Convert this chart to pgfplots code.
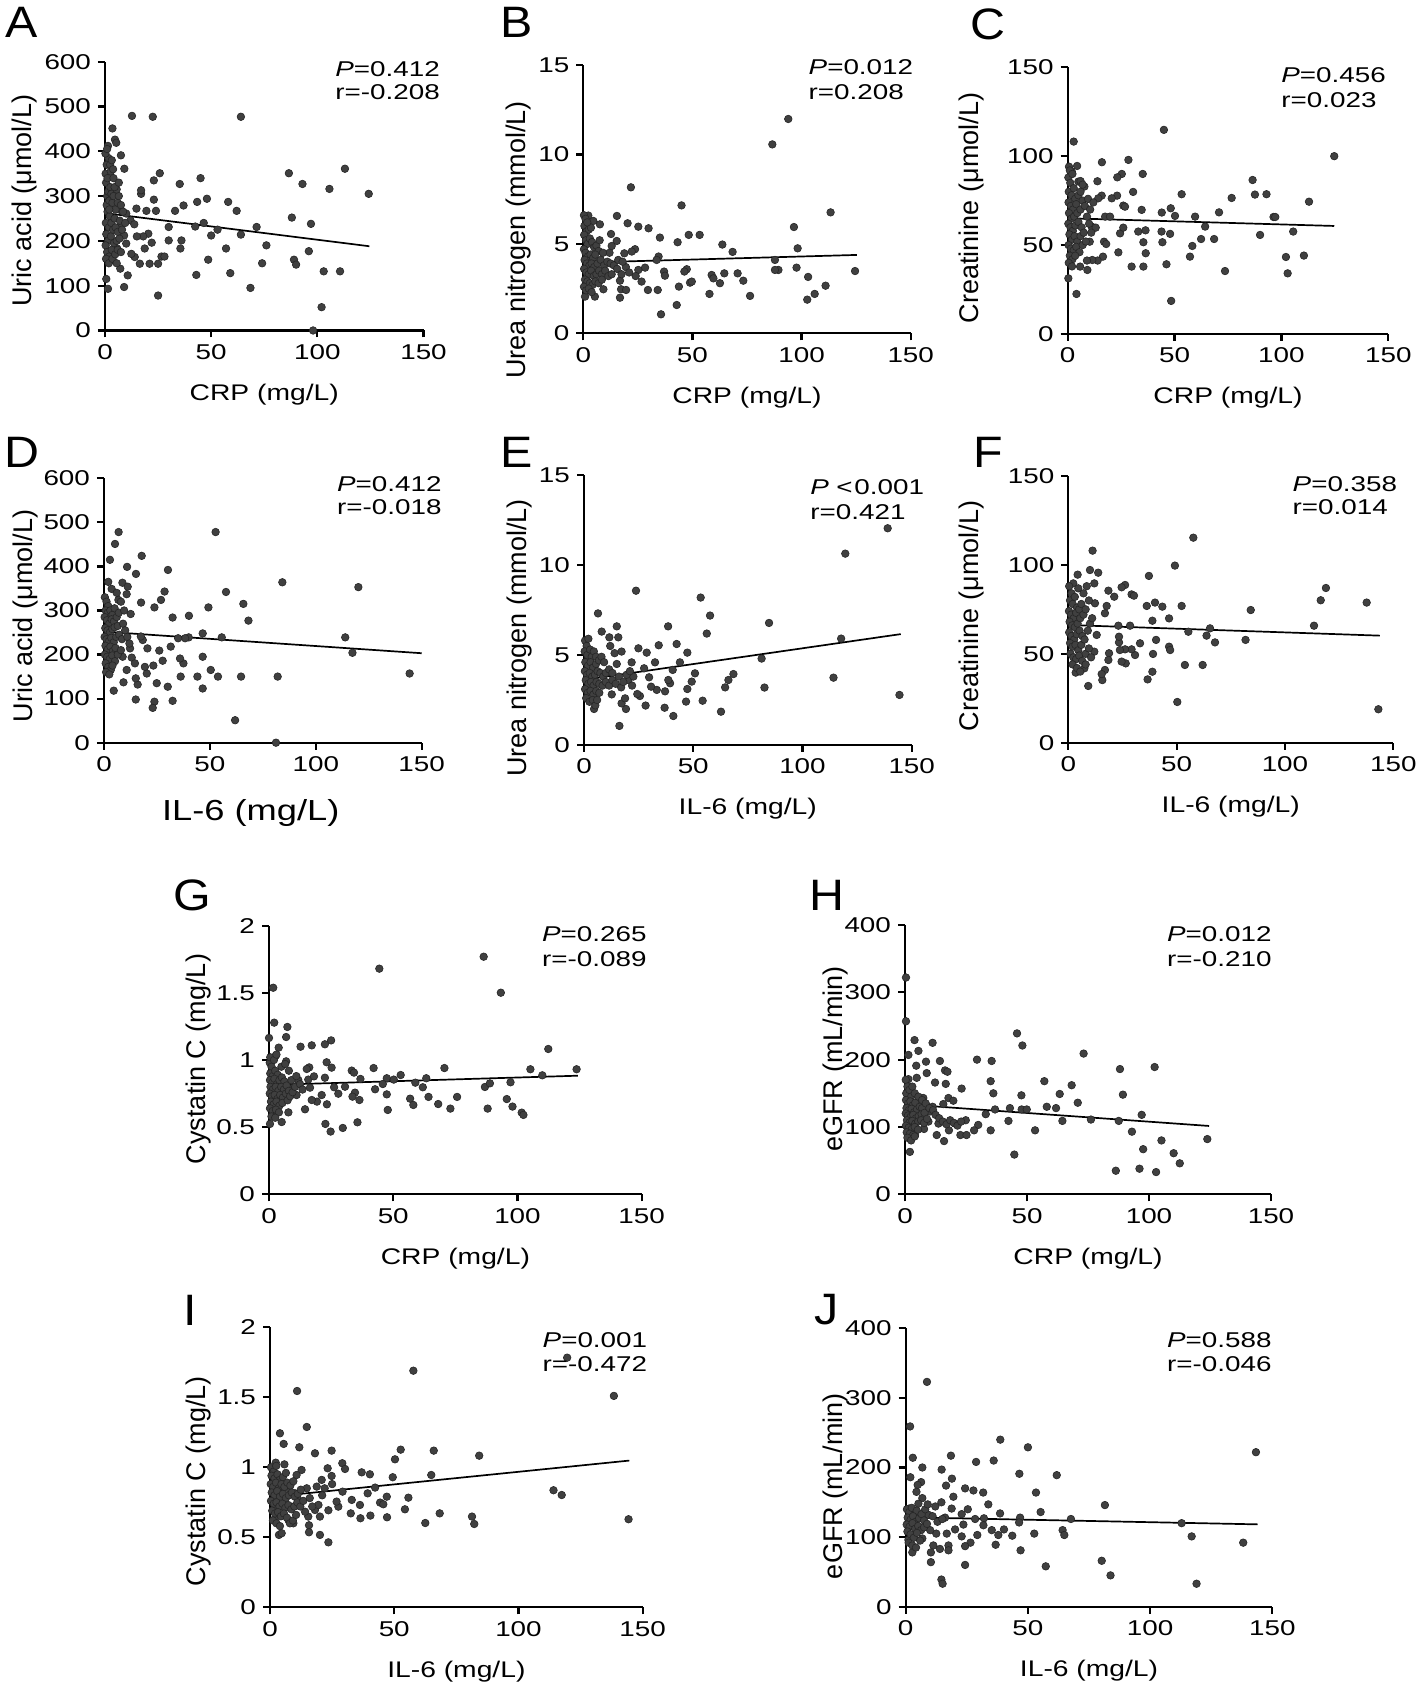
\documentclass[border=0pt]{standalone}
\usepackage{fontspec}
\setmainfont{Liberation Sans}
\newfontfamily\sfs[FakeStretch=1.3]{Liberation Sans}
\newfontfamily\sfx[FakeStretch=1.25]{Liberation Sans}
\newfontfamily\sfl[FakeStretch=1.1]{Liberation Sans}
\usepackage{pgfplots}
\pgfplotsset{compat=1.18}
\definecolor{dot}{HTML}{404040}
\pgfplotsset{
  panel/.style={
    scale only axis, clip=false,
    axis lines*=left,
    xmin=0,xmax=150, xtick={0,50,100,150},
    tick align=outside, major tick length=3.5pt,
    axis line style={line width=1.1pt},
    tick style={line width=1.1pt, black},
    tick label style={font=\sfs\fontsize{10.7}{12}\selectfont},
    /pgf/number format/assume math mode=true,
    anchor=south west,
  },
  sc/.style={only marks, mark=*, mark size=1.9pt, mark options={fill=dot, draw=black!85, line width=0.3pt}},
  fit/.style={no marks, black, line width=0.85pt},
}
\newcommand{\pr}[5]{%
  \node[anchor=base west, font=\sfs\fontsize{10.7}{12}\selectfont, inner sep=0pt] at (#1pt,#2pt) {#4};%
  \node[anchor=base west, font=\sfs\fontsize{10.7}{12}\selectfont, inner sep=0pt] at (#1pt,#3pt) {#5};}
\newcommand{\lt}[3]{\node[font=\sfl\fontsize{22}{24}\selectfont, inner sep=0pt] at (#1pt,#2pt) {#3};}
\newcommand{\xl}[3]{\node[anchor=base, font=\sfx\fontsize{11.3}{13}\selectfont, inner sep=0pt] at (#1pt,#2pt) {#3};}
\newcommand{\yl}[3]{\node[anchor=base, rotate=90, font=\fontsize{13.5}{15}\selectfont, inner sep=0pt] at (#1pt,#2pt) {#3};}
\begin{document}
\begin{tikzpicture}
\path[use as bounding box] (0,0) rectangle (709pt,847.5pt);
% ---------------- A
\begin{axis}[panel, at={(52.5pt,682.25pt)}, width=159.25pt, height=134.4pt, ymin=0, ymax=600, ytick={0,100,...,600}]
\addplot[sc] coordinates {(12.7,479)(22.5,477)(64,477)(3.5,451)(4.7,426)(5.3,419)(1.4,412)(7.5,391)(9.1,361)(86.6,351)(25.8,351)(113,361)(93,327)(105.7,316)(124.2,305)(35.2,327)(45,340)(23,335)(23,292)(17,305)(17,313)(14.8,272)(19.5,267)(24,267)(33,267)(37,279)(43.4,287)(48,294)(58,287)(62,267)(88,252)(97,238)(71.4,231)(30,231)(42.5,232)(46.5,240)(53,225)(50,212)(64,214)(76,190)(57,183)(35.5,183)(36,201)(30,201)(22,196)(20.4,216)(18,210)(15,210)(18.7,183)(14,164)(12.4,171)(16.4,149)(21,149)(25,149)(26.6,165)(28,165)(48.6,158)(59,128)(74,150)(89,158)(90,147)(96,177)(103,132)(110.7,132)(43,124)(68.5,95)(25,78)(102,52)(98,0)(10.7,123)(9,97)(7.2,138)(1.4,93)(0.6,115)(5.7,183)(10,194)(9,212)(7.2,231)(12,246)(13.8,237)(10,261)(7.9,267)
(0.3,350)(0.5,330)(1,300)(0.8,280)(1.5,310)(2,290)(2.5,320)(3,305)(3.5,285)(4,300)(1.2,265)(2.2,255)(0.4,240)(1.8,230)(3,240)(4.5,250)(5,270)(6,285)(6.5,300)(5.5,315)(0.6,215)(1.5,200)(2.8,210)(3.8,225)(5,230)(6,220)(7,245)(0.3,190)(1,175)(2,165)(3.2,180)(4.2,195)(5.5,200)(6.8,205)(0.5,160)(1.8,150)(3.5,160)(4.8,170)(0.8,370)(1.6,385)(2.4,370)(3.2,380)(2.7,355)(3.8,360)(0.2,395)(1,405)(4.5,320)(7.5,280)(8.5,265)(8,225)(9.5,240)(2,270)(6,180)(7.5,175)(5.5,150)(1.2,340)(4,340)(6.5,330)};
\addplot[fit] coordinates {(0,262) (124.5,188)};
\end{axis}
% ---------------- B
\begin{axis}[panel, at={(291.65pt,680.85pt)}, width=163.7pt, height=134.15pt, ymin=0, ymax=15, ytick={0,5,10,15}]
\addplot[sc] coordinates {(93.9,11.98)(86.6,10.56)(21.8,8.16)(45,7.15)(113.3,6.76)(96.5,5.94)(98.2,4.75)(97.7,3.67)(87.8,4.1)(89.4,3.54)(87.8,3.54)(124.5,3.48)(103,3.15)(111,2.66)(106,2.2)(102.6,1.88)(76.4,2.09)(73.3,2.94)(70.7,3.35)(64.6,3.35)(62.6,2.8)(58.8,3.26)(59.6,3.07)(57.8,2.2)(68.4,4.55)(63.7,4.96)(53.3,5.5)(48.3,5.5)(43.2,5.09)(35.1,5.35)(29.9,5.87)(25.2,5.96)(20.3,6.15)(15.4,6.56)(7.6,6.09)(4.6,6.28)(2.3,6.58)(12.7,5.55)(15.3,5.16)(13,4.88)(23.7,4.7)(22.2,4.57)(18.8,4.47)(34.5,4.29)(33.6,4.1)(47.4,3.58)(46.3,3.45)(37,3.45)(37.4,3.22)(48.9,2.83)(49.7,2.89)(43.8,2.61)(42.8,1.58)(35.6,1.06)(34.1,2.42)(29.6,2.42)(26.7,2.89)(28.3,3.67)(25.2,3.54)(16.8,2.94)(17.3,2.46)(19.6,2.42)(16.8,1.99)(9.2,2.46)(5.3,2.05)(0.8,2.05)
(0.3,6.6)(1,6.4)(0.5,6)(1.5,5.7)(2.5,5.8)(0.4,5.5)(1.2,5.2)(2,5)(3,5.3)(4,5.1)(5,4.8)(6,4.9)(7,4.6)(0.3,4.7)(1,4.5)(2.2,4.3)(3.3,4.4)(4.5,4.2)(5.5,4.4)(0.6,4.1)(1.6,3.9)(2.8,3.8)(3.8,3.9)(5,3.7)(6.5,3.9)(8,4.1)(9.5,3.8)(11,4)(12.5,3.9)(14,3.8)(0.4,3.6)(1.4,3.4)(2.5,3.3)(3.6,3.5)(4.8,3.2)(6,3.3)(7.2,3.5)(8.5,3.3)(10,3.5)(0.8,3)(1.9,2.9)(3,2.8)(4.2,2.7)(5.5,2.9)(7,2.8)(8.5,3)(0.3,2.6)(1.3,2.4)(2.5,2.5)(3.8,2.3)(11.5,3.2)(13,3.3)(15.5,3.6)(17.5,3.3)(19.5,3.7)(21,3.4)(24,3.2)(16,4.1)(18,4)(12,4.5)(9,4.5)(7.5,5.2)(3.5,5.9)(1.8,6.2)};
\addplot[fit] coordinates {(0,3.95) (125.3,4.38)};
\end{axis}
% ---------------- C
\begin{axis}[panel, at={(533.85pt,680.5pt)}, width=160.3pt, height=133.35pt, ymin=0, ymax=150, ytick={0,50,100,150}]
\addplot[sc] coordinates {(45,114.8)(2.8,108.2)(124.7,100)(28.4,97.9)(16,96.6)(4.4,94.5)(0.6,94.1)(1.9,91.3)(35.1,90)(25.3,90)(23.2,88.1)(13.9,85.9)(86.5,86.6)(87.6,78.4)(93,78.6)(76.7,76.5)(53.3,78.6)(30.6,79.9)(112.9,74.4)(23.1,77.8)(20.6,76.3)(15.9,77.8)(14.3,76.3)(7.8,82.9)(5,85.7)(26,72.2)(26.8,71.6)(34.6,69.8)(44,68.3)(48.2,70.7)(50.2,66.4)(59.6,66)(70.8,68.4)(96.3,65.8)(97.1,65.8)(64.3,60.4)(105.5,57.6)(90,55.7)(68.5,53.4)(62.4,53.4)(58.3,49.5)(47.9,56.3)(43.9,57.6)(44.3,51.6)(36.4,58.3)(33,57.6)(35.4,51.6)(36.5,45.4)(35.4,37.9)(29.9,37.9)(23.7,45.9)(24.5,56.6)(26,59.8)(17,51.9)(18,50.6)(16.5,43.5)(14,41.3)(11.5,41.6)(9,41.3)(9.2,36)(5.8,37.9)(10.3,51.9)(11.2,60.4)(13.1,59.8)(17.5,66)(19.8,66)(57.2,43.5)(46.2,39.2)(73.6,35.4)(48.4,18.6)(102.9,34.1)(102.1,43.3)(110.5,44.1)(4.1,22.5)(0.3,31.3)
(0.3,88)(1.2,85)(0.5,80)(1.8,78)(2.8,82)(3.5,76)(0.4,74)(1.5,72)(2.5,70)(4,73)(5,78)(6,80)(0.6,68)(1.8,65)(3,66)(4.5,68)(6,70)(7,75)(0.3,62)(1.3,60)(2.4,58)(3.6,61)(5,63)(6.5,60)(0.8,56)(2,53)(3.2,55)(4.5,52)(6,55)(7.5,57)(0.4,50)(1.5,48)(2.8,47)(4,49)(5.5,46)(7,50)(8.5,52)(1,44)(2.2,42)(3.5,44)(0.5,40)(2,38)(9,66)(10,62)(11,57)(8,72)(9.5,76)(10.5,70)(12,74)(1,92)(2.2,90)(6,86)(7,84)};
\addplot[fit] coordinates {(0,65.1) (124.7,60.75)};
\end{axis}
% ---------------- D
\begin{axis}[panel, at={(52pt,476.15pt)}, width=158.85pt, height=132.2pt, ymin=0, ymax=600, ytick={0,100,...,600}]
\addplot[sc] coordinates {(6.9,478)(52.7,478)(5.2,451)(17.8,424)(2.8,415)(10.9,399)(30.2,392)(15.1,383)(84.2,364)(120.1,353)(57.6,342)(65.8,315)(68.2,277)(49.3,307)(28.6,343)(26.9,324)(23.8,307)(17.5,318)(12.6,292)(8.7,363)(11.2,354)(10.7,337)(6.8,324)(3.6,349)(2,365)(32.4,284)(40.1,288)(46.6,248)(55.6,239)(40,239)(38.3,237)(35,237)(31.5,218)(113.9,239)(117.3,204)(144.3,157)(82,150)(64.7,150)(53.8,150)(50.4,165)(46.6,195)(44.1,150)(36.2,150)(37.5,180)(35.9,191)(46.6,123)(30.1,127)(24.9,135)(32.4,95)(23.8,93)(23,79)(15,98)(4.6,118)(15.9,132)(15,146)(10.7,165)(9.2,137)(23.3,175)(20.2,157)(19.3,172)(26.1,209)(27.7,186)(20.5,214)(18.3,233)(17.4,241)(12.3,214)(13.1,193)(14.6,180)(8.8,195)(61.9,51)(81.2,0)
(0.4,330)(1.2,320)(2,310)(0.8,300)(1.8,295)(3,300)(4,290)(5,305)(0.3,285)(1.4,278)(2.5,270)(3.6,280)(4.7,275)(6,285)(7,295)(0.6,260)(1.7,255)(2.8,250)(3.9,258)(5,262)(6.5,265)(0.3,240)(1.2,235)(2.3,230)(3.4,238)(4.6,228)(5.8,240)(7.2,245)(0.7,220)(1.8,212)(3,218)(4.2,208)(5.4,215)(0.4,200)(1.5,195)(2.7,190)(3.9,198)(5.2,185)(0.8,180)(2,172)(3.2,165)(1,160)(2.5,155)(4,175)(6.5,200)(8,210)(8.5,235)(9,270)(10,255)(11,240)(12,225)(9.5,300)(8,320)(6,340)};
\addplot[fit] coordinates {(0,252) (150,203)};
\end{axis}
% ---------------- E
\begin{axis}[panel, at={(292pt,475pt)}, width=163.85pt, height=135pt, ymin=0, ymax=15, ytick={0,5,10,15}]
\addplot[sc] coordinates {(139,12.04)(119.6,10.63)(23.8,8.57)(53.4,8.19)(57.7,7.19)(6.4,7.31)(84.7,6.78)(38.5,6.59)(15,6.59)(8.1,6.3)(11.6,5.98)(15.7,5.98)(56.2,6.19)(117.7,5.91)(34.2,5.54)(42.4,5.61)(24.9,5.37)(28.7,5.13)(47.3,5.13)(17.2,5.19)(81.3,4.8)(43.9,4.59)(32.5,4.59)(21.8,4.59)(50.8,3.98)(68.4,3.94)(66.1,3.61)(49.3,3.52)(64.6,3.2)(82.6,3.19)(47.3,3.11)(114.2,3.74)(144.4,2.78)(39.4,3.43)(38.6,3.61)(37.1,2.98)(33.3,3.06)(30.7,3.24)(29.8,3.76)(27.5,4.26)(40.6,4.17)(46.7,2.41)(54.3,2.46)(62.7,1.85)(40.9,1.61)(36.9,2.07)(28.2,2.19)(25.6,2.72)(24.4,2.83)(19.2,2.0)(16.2,1.06)(12.7,2.81)(4.6,2.0)(17.2,2.31)(18.8,2.59)(20.3,3.61)(22.6,3.8)
(0.5,5.8)(1.2,5.5)(2,5.9)(0.3,5.2)(1.5,5)(2.8,5.3)(3.5,4.9)(4.5,5.2)(5.5,4.9)(0.6,4.6)(1.8,4.4)(3,4.6)(4.2,4.3)(5.5,4.5)(6.8,4.7)(8,4.9)(9.2,4.6)(0.4,4.1)(1.4,3.9)(2.6,4)(3.8,3.8)(5,3.9)(6.2,4.1)(7.5,4)(8.8,3.8)(10,4)(11.5,4.2)(13,4)(0.8,3.6)(2,3.4)(3.2,3.5)(4.4,3.3)(5.7,3.5)(7,3.4)(8.5,3.3)(10,3.5)(11.5,3.3)(13,3.6)(14.5,3.4)(16,3.8)(0.5,3.1)(1.7,2.9)(3,3)(4.3,2.8)(5.6,3)(7,2.9)(1,2.6)(2.5,2.4)(4,2.5)(5.2,2.2)(6,2.5)(17,3.2)(18,3.5)(19.5,3.9)(21,4.1)(22,3.3)(15,4.5)(14,5.1)(12,5.5)};
\addplot[fit] coordinates {(0,3.62) (145,6.16)};
\end{axis}
% ---------------- F
\begin{axis}[panel, at={(534.15pt,476.15pt)}, width=162.5pt, height=133.35pt, ymin=0, ymax=150, ytick={0,50,100,150}]
\addplot[sc] coordinates {(57.7,115.3)(11.2,108)(49.2,99.6)(10,97.1)(13.8,95.6)(4.3,94.5)(37.2,93.8)(12,89.6)(2.3,89.6)(26.2,88.7)(24.6,87.4)(18.5,85.5)(21.2,82.1)(4.6,86.8)(29.2,83.4)(30.3,82.7)(118.9,87)(116.5,80.1)(137.7,78.8)(52.3,76.9)(84.2,74.6)(40,78.8)(36.2,76.9)(43.4,76.5)(46.5,69.9)(38.8,68.6)(17.7,76.9)(12.3,78.4)(16.9,72.8)(113.4,65.8)(65.4,64.3)(55.4,62.4)(63.8,60.2)(67.7,56.4)(81.8,57.8)(40.5,57.8)(46.5,54)(47,52.1)(39.1,49.9)(53.8,43.7)(62,43.7)(38.8,39.9)(36.6,35.6)(50.3,22.9)(143.1,18.8)(30.8,49.3)(33.1,55.9)(29.2,52.5)(26.2,52.5)(23.8,52.1)(23.4,56.4)(23.4,59.6)(26.5,44.6)(24.6,45.6)(18.8,50.3)(18.5,46.5)(16.9,40.9)(15.7,35.2)(15.4,38.6)(9.2,31.9)(7.4,41.8)(3.4,39.4)(13.1,60.6)(12,51.2)(23.1,65.8)(28.5,65.8)
(0.4,88)(1.5,84)(0.8,80)(2,78)(3,82)(4,76)(0.3,74)(1.3,72)(2.5,70)(3.6,73)(5,75)(6,78)(0.6,68)(1.8,66)(3,65)(4.3,67)(5.5,70)(7,72)(8,75)(0.4,62)(1.5,60)(2.7,58)(3.9,61)(5.2,63)(6.5,60)(0.8,56)(2,54)(3.3,55)(4.6,52)(6,55)(7.5,58)(1,50)(2.3,48)(3.6,47)(5,49)(6.4,46)(8,50)(9.5,53)(10.5,48)(2,44)(4,42)(5.5,40)(8,44)(9,63)(10,67)(11,70)(7,84)(8.5,88)(9.5,80)};
\addplot[fit] coordinates {(0,66.2) (143.8,60.2)};
\end{axis}
% ---------------- G
\begin{axis}[panel, at={(134.5pt,250.35pt)}, width=186.35pt, height=134.3pt, ymin=0, ymax=2, ytick={0,0.5,1,1.5,2}]
\addplot[sc] coordinates {(86.4,1.769)(44.4,1.68)(93.3,1.501)(1.7,1.538)(2.1,1.278)(7.4,1.246)(6.9,1.171)(0,1.164)(112.4,1.082)(25,1.146)(22.5,1.117)(17.2,1.109)(12.7,1.099)(3.9,1.092)(2.7,1.032)(6.9,0.99)(23.2,0.983)(25.2,0.943)(16.2,0.945)(15.2,0.933)(42.1,0.94)(33.3,0.921)(34.2,0.906)(36.8,0.859)(53,0.888)(70.6,0.94)(105.2,0.931)(123.8,0.931)(110,0.886)(63.3,0.864)(58.9,0.831)(61.9,0.797)(47.4,0.864)(50.2,0.854)(45.8,0.821)(42.7,0.782)(47.4,0.744)(47.8,0.628)(56.8,0.712)(58.1,0.665)(64.2,0.725)(68.1,0.672)(73,0.638)(75.7,0.725)(86.9,0.799)(88.9,0.826)(97.2,0.834)(95.7,0.709)(98,0.653)(101.7,0.608)(102.4,0.591)(88,0.638)(34.6,0.757)(33.6,0.727)(36.4,0.702)(35.6,0.536)(29.7,0.494)(24.8,0.467)(22.7,0.524)(23.3,0.67)(19.3,0.69)(17.2,0.702)(14.5,0.633)(7.8,0.61)(5.1,0.538)(0.4,0.524)(1.7,0.591)(27.9,0.749)(26.2,0.797)(30.6,0.801)(21.2,0.739)(16.5,0.794)(11.8,0.851)(15.8,0.854)(18.1,0.878)(22.5,0.868)(9.1,0.789)(11.1,0.739)
(0.3,0.98)(1,0.95)(0.5,0.9)(1.5,0.88)(2.5,0.92)(3.5,0.89)(0.4,0.85)(1.3,0.83)(2.2,0.86)(3.2,0.82)(4.2,0.85)(5.2,0.87)(6.2,0.84)(0.6,0.8)(1.6,0.78)(2.7,0.8)(3.8,0.77)(4.9,0.8)(6,0.78)(7.1,0.81)(0.3,0.75)(1.2,0.73)(2.3,0.74)(3.4,0.71)(4.5,0.74)(5.6,0.72)(6.8,0.75)(8,0.77)(0.8,0.69)(1.9,0.67)(3,0.69)(4.2,0.66)(5.4,0.68)(0.4,0.64)(1.5,0.62)(2.8,0.63)(4,0.61)(1,0.58)(2.5,0.57)(7.5,0.7)(8.5,0.73)(9.5,0.76)(10.5,0.8)(9,0.85)(11,0.88)(12.5,0.82)(13.5,0.78)(0.5,1.02)(2,1.0)(3,1.04)(8,0.92)(5,0.95)(6.5,0.97)};
\addplot[fit] coordinates {(0,0.814) (124.3,0.883)};
\end{axis}
% ---------------- H
\begin{axis}[panel, at={(452.5pt,250.35pt)}, width=183pt, height=134.65pt, ymin=0, ymax=400, ytick={0,100,...,400}]
\addplot[sc] coordinates {(0.4,322)(0.4,257)(45.9,239)(48.1,221)(73.2,209)(3.9,229)(11.3,225)(5.5,213)(1.4,207)(4.6,191)(8.6,197)(14.3,198)(29.5,200)(35.5,198)(8.9,180)(16.4,184)(17.4,182)(4.8,173)(12.3,166)(16.7,164)(1.4,171)(35.1,168)(57.1,168)(68.3,162)(88.1,186)(102.3,189)(89.3,148)(23.2,157)(36.2,150)(47.7,147)(63.4,149)(70.8,136)(7.5,143)(17.8,143)(19.8,139)(11.3,130)(15.7,134)(58.1,130)(61.9,128)(43,128)(47.8,126)(49.9,126)(36.9,126)(33.1,119)(30,103)(35.1,95)(42.4,109)(53.3,95)(64.5,109)(76.2,111)(87.6,109)(97,118)(93,93)(97.6,67)(105.1,80)(110.1,61)(112.6,46)(123.9,82)(86.4,35)(96.1,38)(102.9,33)(44.8,59)(28.3,95)(22.7,88)(25.2,88)(24.9,110)(20.5,105)(18,95)(13,88)(16,79)(7.8,97)(2,63)(2,83)(4.1,88)(9.6,108)(13.7,105)(10.2,123)(5.5,120)
(0.3,170)(1,160)(0.5,150)(1.8,155)(2.5,145)(0.4,140)(1.3,135)(2.2,138)(3.2,132)(4.2,136)(0.6,128)(1.6,125)(2.7,127)(3.8,122)(4.9,126)(6,130)(7,128)(0.3,120)(1.2,117)(2.3,115)(3.4,118)(4.5,113)(5.6,116)(6.8,119)(8,121)(0.8,110)(1.9,107)(3,109)(4.2,105)(5.4,108)(6.6,110)(7.8,106)(9,112)(0.4,102)(1.5,99)(2.8,97)(4,100)(5.3,96)(0.7,92)(2,90)(3.3,88)(1,84)(2.5,80)(4,86)(3,160)(4,150)(5.5,145)(7,140)(8.5,135)(10,128)(11.5,125)(12.5,118)(14,113)(15.5,108)(17,104)(18.5,110)(20,106)(21.5,102)(23,108)};
\addplot[fit] coordinates {(0,133.7) (124.6,101.5)};
\end{axis}
% ---------------- I
\begin{axis}[panel, at={(135pt,43.85pt)}, width=186.35pt, height=140pt, ymin=0, ymax=2, ytick={0,0.5,1,1.5,2}]
\addplot[sc] coordinates {(119.6,1.783)(57.7,1.69)(138.4,1.51)(10.9,1.545)(14.8,1.288)(4,1.243)(5.5,1.167)(11.8,1.143)(52.6,1.126)(65.9,1.119)(84.2,1.083)(18.1,1.1)(24.8,1.119)(50.3,1.057)(29.1,1.029)(30.2,0.988)(2.3,1.033)(5.8,1.021)(12.7,0.981)(23.2,0.993)(24.8,0.938)(36.9,0.964)(40.2,0.95)(49.4,0.929)(64.9,0.945)(42.3,0.855)(29.2,0.826)(39.3,0.814)(55.7,0.783)(114.1,0.836)(117.4,0.802)(47,0.79)(44.3,0.748)(45.6,0.736)(36.2,0.731)(32.9,0.767)(32.5,0.671)(36.4,0.636)(40.4,0.655)(47.1,0.643)(54.3,0.7)(68.3,0.671)(81.3,0.648)(82.2,0.595)(62.5,0.602)(144.3,0.629)(23.5,0.693)(20.1,0.648)(18.1,0.695)(15.4,0.648)(27.5,0.719)(26.8,0.755)(19.5,0.731)(11.1,0.779)(15.7,0.586)(15.7,0.536)(20.1,0.517)(23.5,0.464)(3.6,0.517)(4.7,0.529)(7.4,0.624)(9.4,0.6)(2,0.636)(2.7,0.719)(9.4,0.719)(14.1,0.683)(18.8,0.862)(14.8,0.85)(7.4,0.85)(10.7,0.945)(20.8,0.91)(10.1,0.814)(2,0.91)(4,0.838)
(0.4,1.0)(1.5,0.97)(2.5,1.01)(0.6,0.94)(1.8,0.92)(3,0.95)(4,0.91)(5.2,0.93)(6.4,0.96)(0.3,0.88)(1.3,0.86)(2.4,0.89)(3.5,0.85)(4.6,0.88)(5.8,0.86)(7,0.89)(8.2,0.87)(9.4,0.9)(0.7,0.82)(1.8,0.8)(2.9,0.83)(4,0.79)(5.2,0.81)(6.4,0.78)(7.6,0.8)(8.8,0.82)(10,0.79)(11.2,0.81)(12.4,0.84)(0.4,0.76)(1.5,0.74)(2.6,0.75)(3.8,0.72)(5,0.74)(6.2,0.71)(7.4,0.73)(8.6,0.7)(9.8,0.72)(11,0.75)(12.2,0.72)(13.4,0.76)(0.9,0.69)(2,0.67)(3.2,0.68)(4.4,0.65)(5.6,0.67)(6.8,0.64)(8,0.6)(9.2,0.62)(10.5,0.66)(1.2,0.62)(2.6,0.6)(4,0.58)(16,0.78)(17,0.72)(21,0.8)(22,0.85)(25,0.88)};
\addplot[fit] coordinates {(0,0.788) (144.6,1.048)};
\end{axis}
% ---------------- J
\begin{axis}[panel, at={(452.85pt,44.15pt)}, width=183.3pt, height=139.2pt, ymin=0, ymax=400, ytick={0,100,...,400}]
\addplot[sc] coordinates {(8.7,323)(1.8,259)(38.7,240)(50,229)(143.3,222)(18.5,217)(2.9,214)(28.8,208)(36,210)(6.8,200)(14.7,197)(1.9,186)(46.5,191)(61.8,189)(18.9,184)(6.3,179)(4.9,175)(16.5,174)(24.3,170)(27.7,167)(4.4,165)(31.7,164)(53.3,164)(6.8,156)(19.5,158)(33.8,147)(81.5,146)(1.4,141)(5.2,148)(12.1,144)(14.6,150)(25.4,140)(38.6,134)(55.2,136)(18.8,141)(22.9,133)(9.3,132)(16.1,128)(28.4,126)(32,127)(46.8,128)(67.6,126)(112.9,120)(46.4,121)(23.6,118)(31.8,117)(20.2,111)(35.2,110)(40.2,111)(64.2,110)(64.9,103)(52.6,105)(43.6,102)(37.9,103)(29.3,103)(22.9,101)(16.8,105)(12.5,105)(10,110)(6.8,98)(2.5,103)(1.1,96)(117,101)(138.1,92)(36.8,89)(26.5,92)(24.3,87)(17.5,88)(11.3,88)(14,83)(10.3,78)(2.7,78)(47,81)(17.5,81)(10.3,64)(24.3,60)(57.3,58)(80.2,66)(83.8,45)(14.6,39)(15.1,33)(119,33)
(0.5,140)(1.5,136)(2.5,142)(3.5,131)(4.5,138)(0.8,128)(2,125)(3,130)(4,122)(5.5,127)(6.5,133)(7.5,124)(0.4,118)(1.6,115)(2.8,120)(3.9,112)(5.1,116)(6.3,110)(7.5,114)(8.7,119)(0.7,108)(2,104)(3.3,99)(4.6,106)(5.9,95)(1.2,92)(2.7,88)(4.2,85)(8,140)(9,147)(11,130)(13,122)(15,126)};
\addplot[fit] coordinates {(0,128.5) (144,118.3)};
\end{axis}
% ---------------- panel letters
\lt{10.75}{836.25}{A}\lt{258.5}{836.5}{B}\lt{494}{835.5}{C}
\lt{10.75}{621.5}{D}\lt{258.5}{621.5}{E}\lt{494}{621.5}{F}
\lt{96.2}{400}{G}\lt{413.4}{400}{H}\lt{95.1}{192.5}{I}\lt{413.4}{192.5}{J}
% ---------------- P and r
\pr{167.5}{809.15}{797.5}{\textit{P}=0.412}{r=-0.208}
\pr{404.15}{810}{797.5}{\textit{P}=0.012}{r=0.208}
\pr{640.5}{806}{793.5}{\textit{P}=0.456}{r=0.023}
\pr{168.35}{601.5}{590}{\textit{P}=0.412}{r=-0.018}
\pr{405}{600}{587.5}{\textit{P}\hspace{0.35em}<\hspace{0.08em}0.001}{r=0.421}
\pr{646.15}{601.5}{590}{\textit{P}=0.358}{r=0.014}
\pr{270.85}{376.5}{364}{\textit{P}=0.265}{r=-0.089}
\pr{583.35}{376.5}{364}{\textit{P}=0.012}{r=-0.210}
\pr{271.15}{173.5}{161.5}{\textit{P}=0.001}{r=-0.472}
\pr{583.35}{173.5}{161.5}{\textit{P}=0.588}{r=-0.046}
% ---------------- x labels
\xl{132.1}{647.25}{CRP (mg/L)}
\xl{373.5}{645.85}{CRP (mg/L)}
\xl{614}{645.5}{CRP (mg/L)}
\node[anchor=base, font=\sfx\fontsize{14.5}{16}\selectfont, inner sep=0pt] at (125.4pt,437.15pt) {IL-6 (mg/L)};
\xl{373.9}{440}{IL-6 (mg/L)}
\xl{615.4}{441.15}{IL-6 (mg/L)}
\xl{227.7}{215.35}{CRP (mg/L)}
\xl{544}{215.35}{CRP (mg/L)}
\xl{228.2}{8.85}{IL-6 (mg/L)}
\xl{544.5}{9.15}{IL-6 (mg/L)}
% ---------------- y labels
\yl{15.85}{747.15}{Uric acid (μmol/L)}
\yl{262.5}{727.5}{Urea nitrogen (mmol/L)}
\yl{489}{743.5}{Creatinine (μmol/L)}
\yl{16}{539.5}{Uric acid (μmol/L)}
\yl{263}{528.5}{Urea nitrogen (mmol/L)}
\yl{489}{539.5}{Creatinine (μmol/L)}
\yl{102.5}{318}{Cystatin C (mg/L)}
\yl{421}{318}{eGFR (mL/min)}
\yl{102.5}{107}{Cystatin C (mg/L)}
\yl{421}{104.5}{eGFR (mL/min)}
\end{tikzpicture}
\end{document}
